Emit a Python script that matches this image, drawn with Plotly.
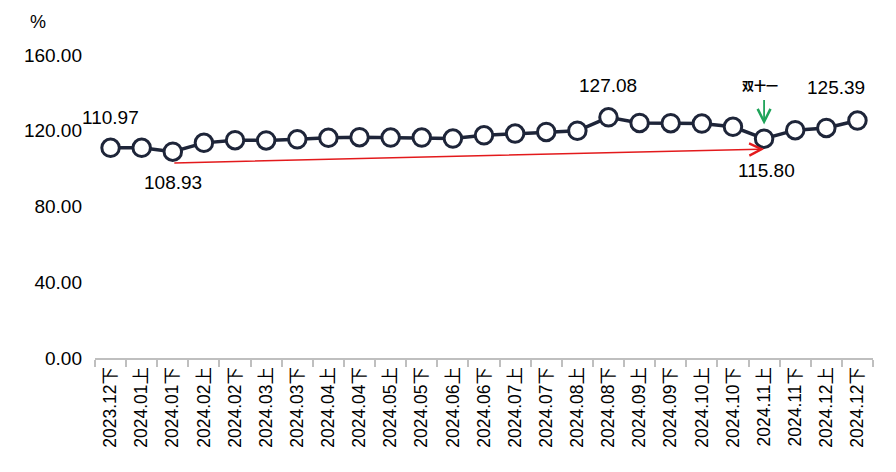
import plotly.graph_objects as go

categories = ["2023.12下", "2024.01上", "2024.01下", "2024.02上", "2024.02下", "2024.03上",
              "2024.03下", "2024.04上", "2024.04下", "2024.05上", "2024.05下", "2024.06上",
              "2024.06下", "2024.07上", "2024.07下", "2024.08上", "2024.08下", "2024.09上",
              "2024.09下", "2024.10上", "2024.10下", "2024.11上", "2024.11下", "2024.12上",
              "2024.12下"]
values = [110.97, 111.0, 108.93, 113.6, 115.0, 114.9, 115.5, 116.3, 116.6, 116.4, 116.4,
          115.9, 117.6, 118.5, 119.4, 120.0, 127.08, 124.1, 124.0, 123.8, 122.1, 115.80,
          120.3, 121.5, 125.39]
y_ticks = [0, 40, 80, 120, 160]
y_ticktext = ["0.00", "40.00", "80.00", "120.00", "160.00"]

# labelled points: (index, text, xshift, yshift)
labels = [(0, "110.97", 0, 30), (2, "108.93", 0, -31), (16, "127.08", 0, 32),
          (24, "125.39", -21, 33), (21, "115.80", 2, -32)]

FONT = "Liberation Sans, Arial, Noto Sans CJK SC"
LINE = "#1e2539"

W, H = 896, 472
ML, MR, MT, MB = 87, 31, 47, 122  # compensate for the 8px page body margin

fig = go.Figure()
fig.add_trace(go.Scatter(
    x=categories, y=values, mode="lines+markers",
    line=dict(color=LINE, width=3.5),
    marker=dict(size=17.5, color="white", line=dict(color=LINE, width=3)),
    hoverinfo="x+y", showlegend=False,
))

annotations = []
for i, t, xs, ys in labels:
    annotations.append(dict(x=categories[i], y=values[i], text=t, showarrow=False,
                            xshift=xs, yshift=ys, font=dict(size=19, color="black", family=FONT)))

# red trend arrow from 2024.01下 to 2024.11上
annotations.append(dict(x=categories[21], y=110.3, ax=categories[2], ay=103.0,
                        xref="x", yref="y", axref="x", ayref="y", text="",
                        showarrow=True, arrowhead=5, arrowsize=1.6, arrowwidth=1.5,
                        arrowcolor="#e31a1c"))
# green arrow and 双十一 label
annotations.append(dict(x=categories[21], y=123.3, ax=0, ay=-26, text="",
                        showarrow=True, arrowhead=5, arrowsize=1.4, arrowwidth=1.8,
                        arrowcolor="#1fa45a"))
annotations.append(dict(x=categories[21], y=values[21], text="<b>双十一</b>", showarrow=False,
                        xshift=-4, yshift=53, font=dict(size=12, color="black",
                                                        family="Noto Sans CJK SC")))
# "%" unit label
annotations.append(dict(x=(30 - ML) / (W - ML - MR), y=1 + (MT - 14) / (H - MT - MB),
                        xref="paper", yref="paper", text="%", showarrow=False,
                        xanchor="center", yanchor="middle",
                        font=dict(size=18, color="black", family=FONT)))

fig.update_layout(
    width=W, height=H,
    margin=dict(l=ML, r=MR, t=MT, b=MB),
    paper_bgcolor="white", plot_bgcolor="white",
    annotations=annotations,
)

fig.update_xaxes(
    type="category", range=[-0.5, len(categories) - 0.5],
    showline=True, linecolor="#bfbfbf", linewidth=2,
    ticks="outside", tickson="boundaries", ticklen=7, tickcolor="#bfbfbf", tickwidth=2,
    tickangle=-90, tickfont=dict(size=17.5, color="black", family=FONT),
    showgrid=False, zeroline=False,
)
fig.update_yaxes(
    range=[0, 160], tickvals=y_ticks, ticktext=y_ticktext,
    showline=False, showgrid=False, zeroline=False,
    tickfont=dict(size=19, color="black", family=FONT), ticklabelstandoff=12,
)

fig.write_html("out.html")
